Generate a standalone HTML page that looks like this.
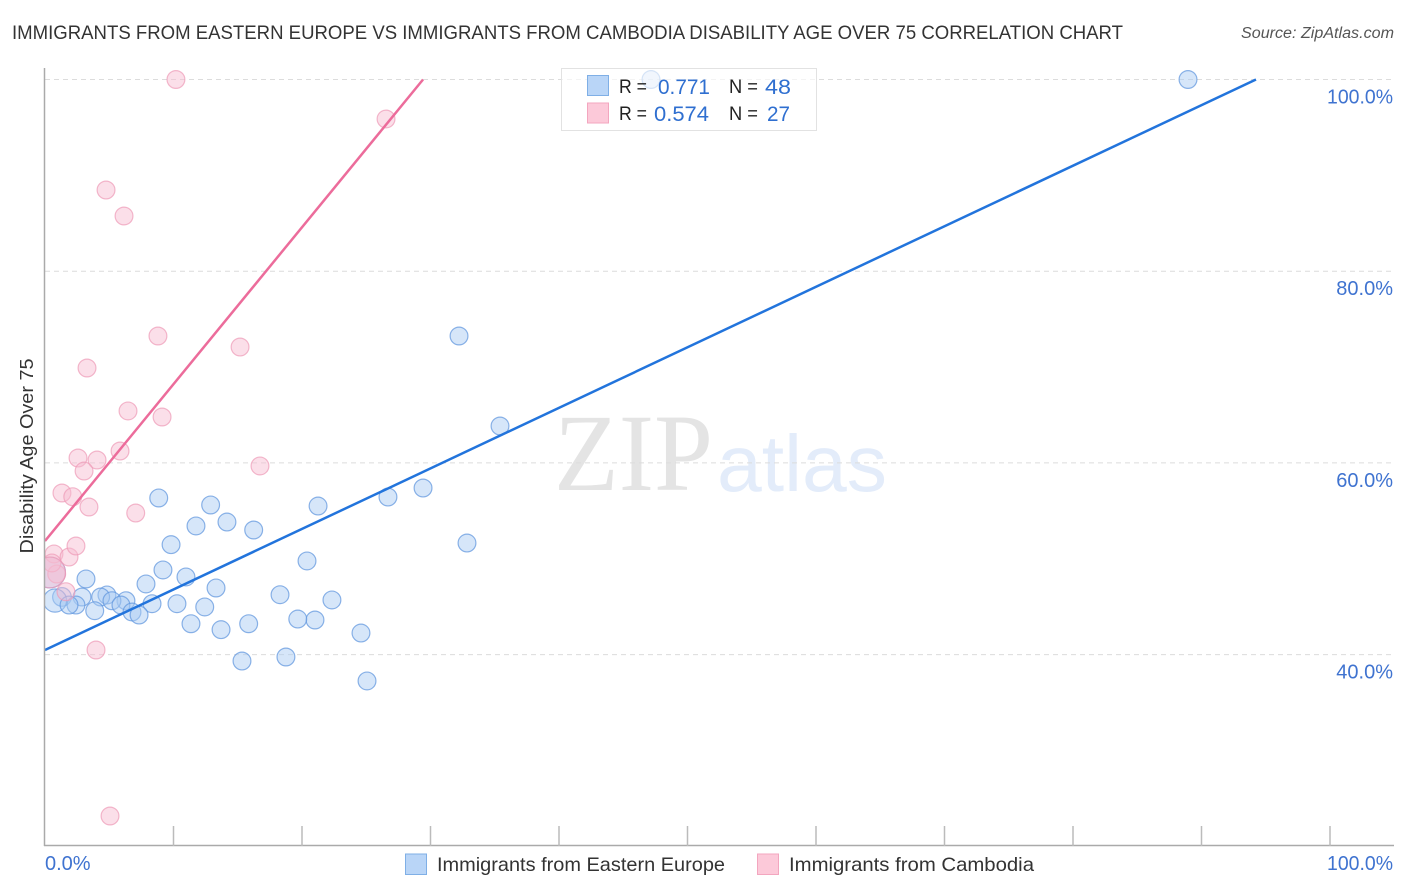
<!DOCTYPE html>
<html lang="en">
<head>
<meta charset="utf-8">
<title>Disability Age Over 75 Correlation Chart</title>
<style>
html,body{margin:0;padding:0;background:#fff;}
svg{display:block;font-family:"Liberation Sans",sans-serif;}
</style>
</head>
<body>
<svg id="chart" width="1406" height="892" viewBox="0 0 1406 892" xmlns="http://www.w3.org/2000/svg">
  <defs>
    <clipPath id="plot-clip"><rect x="45" y="68" width="1349" height="778"/></clipPath>
  </defs>
  <rect width="1406" height="892" fill="#fff"/>
  <text x="12" y="39" font-size="19" fill="#333" textLength="1111" lengthAdjust="spacingAndGlyphs">IMMIGRANTS FROM EASTERN EUROPE VS IMMIGRANTS FROM CAMBODIA DISABILITY AGE OVER 75 CORRELATION CHART</text>
  <text x="1241" y="38" font-size="15.5" font-style="italic" fill="#555" textLength="153" lengthAdjust="spacingAndGlyphs">Source: ZipAtlas.com</text>

  <g>
    <text x="554" y="490" font-family="Liberation Serif, serif" font-size="110" fill="#e4e4e4" textLength="159" lengthAdjust="spacingAndGlyphs">ZIP</text>
    <text x="717" y="491" font-size="80" fill="#e3ecfa" textLength="170" lengthAdjust="spacingAndGlyphs">atlas</text>
  </g>

  <g id="grid"></g>
  <g id="marks" clip-path="url(#plot-clip)"></g>
  <g id="trends" clip-path="url(#plot-clip)"></g>
  <g id="axes"></g>

  <text transform="translate(33,456) rotate(-90)" font-size="18.5" fill="#333" text-anchor="middle" textLength="195" lengthAdjust="spacingAndGlyphs">Disability Age Over 75</text>

  <g>
    <rect x="561.5" y="68.5" width="255" height="62" fill="#fff" fill-opacity="0.65" stroke="#e2e2e2" stroke-width="1"/>
    <rect x="587.5" y="75.5" width="21" height="20" fill="#b9d5f7" stroke="#7fafe6"/>
    <rect x="587.5" y="103" width="21" height="20" fill="#fcc9d9" stroke="#f3a6bf"/>
    <text x="619" y="93" font-size="19" fill="#222" textLength="28" lengthAdjust="spacingAndGlyphs">R =</text>
    <text x="658" y="94" font-size="21" fill="#2f6fd0" textLength="52" lengthAdjust="spacingAndGlyphs">0.771</text>
    <text x="729" y="93" font-size="19" fill="#222" textLength="29" lengthAdjust="spacingAndGlyphs">N =</text>
    <text x="765" y="94" font-size="21" fill="#2f6fd0" textLength="26" lengthAdjust="spacingAndGlyphs">48</text>
    <text x="619" y="120" font-size="19" fill="#222" textLength="28" lengthAdjust="spacingAndGlyphs">R =</text>
    <text x="654" y="121" font-size="21" fill="#2f6fd0" textLength="55" lengthAdjust="spacingAndGlyphs">0.574</text>
    <text x="729" y="120" font-size="19" fill="#222" textLength="29" lengthAdjust="spacingAndGlyphs">N =</text>
    <text x="767" y="121" font-size="21" fill="#2f6fd0" textLength="23" lengthAdjust="spacingAndGlyphs">27</text>
  </g>

  <g>
    <rect x="405.5" y="854" width="21" height="20.5" fill="#b9d5f7" stroke="#7fafe6"/>
    <text x="437" y="871" font-size="19.5" fill="#333" textLength="288" lengthAdjust="spacingAndGlyphs">Immigrants from Eastern Europe</text>
    <rect x="757.5" y="854" width="21" height="20.5" fill="#fcc9d9" stroke="#f3a6bf"/>
    <text x="789" y="871" font-size="19.5" fill="#333" textLength="245" lengthAdjust="spacingAndGlyphs">Immigrants from Cambodia</text>
  </g>
</svg>
<script>
var yTicks = [100, 80, 60, 40];
var yTickLabels = ["100.0%", "80.0%", "60.0%", "40.0%"];
var xTicks = [0, 10, 20, 30, 40, 50, 60, 70, 80, 90, 100];
var xEndLabels = ["0.0%", "100.0%"];

var europeX = [47.16,88.95,32.22,35.41,21.25,26.69,29.42,32.84,20.39,22.33,21.01,24.59,25.06,8.85,12.89,11.75,14.16,16.24,9.81,9.18,10.97,3.19,7.86,13.31,18.29,2.88,4.82,4.33,6.3,5.21,8.33,5.91,10.27,12.43,3.87,6.77,7.32,11.36,13.7,15.85,19.67,15.33,18.75,1.32,0.78,2.41,1.87,0.39];
var europeY = [100,100,73.24,63.85,55.5,56.44,57.38,51.64,49.77,45.7,43.61,42.25,37.25,56.34,55.61,53.42,53.83,53,51.47,48.83,48.1,47.89,47.37,46.95,46.25,46.01,46.22,46.01,45.62,45.62,45.31,45.17,45.31,44.97,44.58,44.44,44.13,43.22,42.6,43.22,43.71,39.33,39.75,46.01,45.64,45.17,45.17,48.57];
var europeWeight = [1,1,1,1,1,1,1,1,1,1,1,1,1,1,1,1,1,1,1,1,1,1,1,1,1,1,1,1,1,1,1,1,1,1,1,1,1,1,1,1,1,1,1,1.1,1.7,1,1,3];

var cambodiaX = [0.7,1.87,2.41,0.91,1.63,3.97,1.32,2.16,3.42,7.06,10.19,26.54,4.75,6.15,8.79,15.18,3.27,6.46,9.11,5.84,2.57,4.05,3.04,16.73,5.06,0.54,0.39];
var cambodiaY = [50.5,50.18,51.33,48.41,46.56,40.48,56.86,56.47,55.4,54.77,100,95.88,88.47,85.76,73.24,72.09,69.9,65.42,64.79,61.24,60.51,60.3,59.15,59.68,23.16,49.56,48.57];
var cambodiaWeight = [1,1,1,1,1,1,1,1,1,1,1,1,1,1,1,1,1,1,1,1,1,1,1,1,1,1,3];

var europeTrendX = [0, 94.24];
var europeTrendY = [40.48, 100];
var cambodiaTrendX = [0, 29.42];
var cambodiaTrendY = [51.85, 100];

var SVG_NS = "http://www.w3.org/2000/svg";
function xScale(v) { return 45 + v * 12.85; }
function yScale(v) { return 79.5 + (100 - v) * 9.585; }
function rScale(w) { return 8.9 * Math.sqrt(w); }
function make(tag, attrs, parent) {
  var el = document.createElementNS(SVG_NS, tag);
  for (var k in attrs) el.setAttribute(k, attrs[k]);
  parent.appendChild(el);
  return el;
}
function fitLongLabel(el, text) {
  if (text.length > 5) {
    el.setAttribute("textLength", "66");
    el.setAttribute("lengthAdjust", "spacingAndGlyphs");
  }
}

var gridGroup = document.getElementById("grid");
var axesGroup = document.getElementById("axes");
var marksGroup = document.getElementById("marks");
var trendsGroup = document.getElementById("trends");

yTicks.forEach(function (t, i) {
  var line = make("line", {x1: 45, x2: 1394, y1: yScale(t), y2: yScale(t), stroke: "#dcdcdc", "stroke-width": 1, "stroke-dasharray": "5 4"}, gridGroup);
  
  
  var label = make("text", {x: 1327, y: yScale(t) + 24, "font-size": 20, fill: "#3f73d0"}, axesGroup);
  label.textContent = yTickLabels[i];
  if (yTickLabels[i].length <= 5) { label.setAttribute("x", 1393); label.setAttribute("text-anchor", "end"); }
  fitLongLabel(label, yTickLabels[i]);
  
  
});

var yAxis = make("line", {x1: 44.5, x2: 44.5, y1: 68, y2: 846, stroke: "#aaa", "stroke-width": 1.5}, axesGroup);


var xAxis = make("line", {x1: 44, x2: 1394, y1: 845.5, y2: 845.5, stroke: "#aaa", "stroke-width": 1.5}, axesGroup);



xTicks.forEach(function (t) {
  if (t === 0) return;
  var tick = make("line", {x1: xScale(t), x2: xScale(t), y1: 826, y2: 846, stroke: "#bbb", "stroke-width": 1.5}, axesGroup);
  
  
});

var xLabelLeft = make("text", {x: 45, y: 870, "font-size": 20, fill: "#3f73d0"}, axesGroup);
xLabelLeft.textContent = xEndLabels[0];


var xLabelRight = make("text", {x: 1327, y: 870, "font-size": 20, fill: "#3f73d0"}, axesGroup);
xLabelRight.textContent = xEndLabels[1];
fitLongLabel(xLabelRight, xEndLabels[1]);



europeX.forEach(function (v, i) {
  var dot = make("circle", {cx: xScale(v), cy: yScale(europeY[i]), r: rScale(europeWeight[i]), fill: "#a9caf3", "fill-opacity": 0.48, stroke: "#5f96de", "stroke-opacity": 0.72, "stroke-width": 1.2}, marksGroup);
  
  
});
cambodiaX.forEach(function (v, i) {
  var dot = make("circle", {cx: xScale(v), cy: yScale(cambodiaY[i]), r: rScale(cambodiaWeight[i]), fill: "#f7bdd0", "fill-opacity": 0.48, stroke: "#ee9ab6", "stroke-opacity": 0.7, "stroke-width": 1.2}, marksGroup);
  
  
});

var europeTrend = make("line", {x1: xScale(europeTrendX[0]), y1: yScale(europeTrendY[0]), x2: xScale(europeTrendX[1]), y2: yScale(europeTrendY[1]), stroke: "#2274dc", "stroke-width": 2.5}, trendsGroup);


var cambodiaTrend = make("line", {x1: xScale(cambodiaTrendX[0]), y1: yScale(cambodiaTrendY[0]), x2: xScale(cambodiaTrendX[1]), y2: yScale(cambodiaTrendY[1]), stroke: "#ec6c9b", "stroke-width": 2.5}, trendsGroup);


</script>
</body>
</html>
